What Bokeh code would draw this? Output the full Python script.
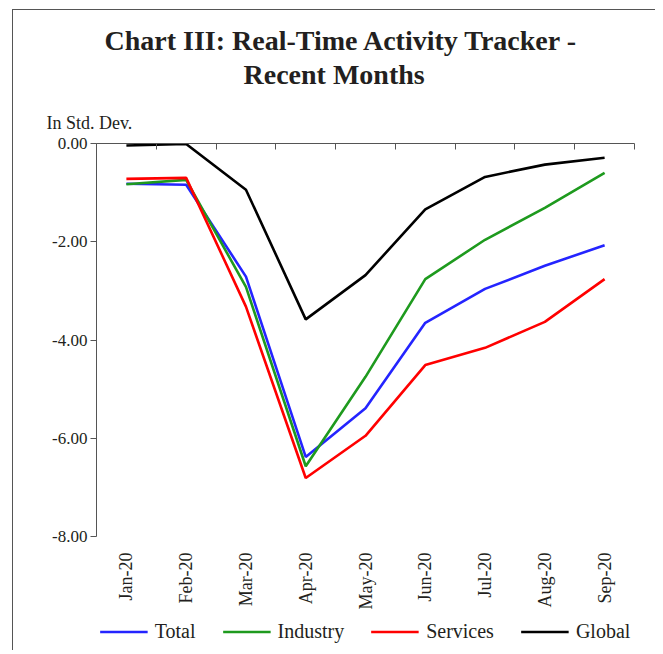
import math
from bokeh.plotting import figure
from bokeh.layouts import column
from bokeh.models import (ColumnDataSource, LinearAxis, FixedTicker, NumeralTickFormatter,
                          Range1d, Legend, LegendItem, Title)
from bokeh.embed import file_html
from bokeh.resources import INLINE

months = ["Jan-20", "Feb-20", "Mar-20", "Apr-20", "May-20", "Jun-20", "Jul-20", "Aug-20", "Sep-20"]
total = [-0.82, -0.84, -2.71, -6.38, -5.39, -3.65, -2.96, -2.49, -2.07]
industry = [-0.83, -0.74, -2.92, -6.57, -4.75, -2.76, -1.96, -1.31, -0.60]
services = [-0.72, -0.70, -3.32, -6.81, -5.95, -4.51, -4.16, -3.63, -2.76]
global_ = [-0.04, -0.01, -0.94, -3.58, -2.68, -1.34, -0.68, -0.43, -0.29]
y_ticks = [0, -2, -4, -6, -8]

FONT = "Liberation Serif"
TXT = "#231f20"
AX = "#555555"
xs = [i + 0.5 for i in range(len(months))]
src = ColumnDataSource(dict(x=xs, total=total, industry=industry, services=services, glob=global_))

p = figure(width=642, height=602, output_backend="svg", toolbar_location=None,
           x_range=Range1d(0, len(months)), y_range=Range1d(-8, 0),
           x_axis_location=None, y_axis_location=None,
           min_border_left=83, min_border_right=21, min_border_top=133, min_border_bottom=75)
p.outline_line_color = None
p.xgrid.visible = False
p.ygrid.visible = False
p.title = None

# left axis
yax = LinearAxis(ticker=FixedTicker(ticks=y_ticks), formatter=NumeralTickFormatter(format="0.00"),
                 axis_line_color=AX, major_tick_line_color=AX,
                 major_tick_in=0, major_tick_out=6, minor_tick_line_color=None,
                 major_label_text_font=FONT, major_label_text_font_size="17px",
                 major_label_text_color=TXT, major_label_standoff=3)
p.add_layout(yax, "left")

# top axis (x axis at zero), ticks between categories
tax = LinearAxis(ticker=FixedTicker(ticks=list(range(len(months) + 1))),
                 axis_line_color=AX, major_tick_line_color=AX,
                 major_tick_in=6, major_tick_out=0, minor_tick_line_color=None,
                 major_label_text_color=None, major_label_text_font_size="1px",
                 major_label_standoff=0)
p.add_layout(tax, "above")

p.add_layout(Title(text="In Std. Dev.", align="left", offset=-50, standoff=22,
                   text_font=FONT, text_font_size="18px", text_font_style="normal",
                   text_color=TXT), "above")
p.add_layout(Title(text="Recent Months", align="left", offset=147, standoff=20,
                   text_font=FONT, text_font_size="28px", text_font_style="bold",
                   text_color=TXT), "above")
p.add_layout(Title(text="Chart III: Real-Time Activity Tracker -", align="left", offset=8,
                   standoff=-18, text_font=FONT, text_font_size="28px", text_font_style="bold",
                   text_color=TXT), "above")

# bottom labels
bax = LinearAxis(ticker=FixedTicker(ticks=xs),
                 major_label_overrides={x: m for x, m in zip(xs, months)},
                 axis_line_color=None, major_tick_line_color=None, minor_tick_line_color=None,
                 major_label_orientation=math.pi / 2,
                 major_label_text_font=FONT, major_label_text_font_size="18px",
                 major_label_text_color=TXT, major_label_standoff=10)
p.add_layout(bax, "below")

series = [("total", "Total", "#2424ff"), ("industry", "Industry", "#1e9a1e"),
          ("services", "Services", "#ff0000"), ("glob", "Global", "#000000")]
for col, name, color in series:
    p.line("x", col, source=src, line_color=color, line_width=2.6)

# legend in its own strip below the chart (same series, drawn out of view)
lf = figure(width=642, height=38, output_backend="svg", toolbar_location=None,
            x_range=Range1d(0, len(months)), y_range=Range1d(10, 11),
            x_axis_location=None, y_axis_location=None,
            min_border_left=0, min_border_right=0, min_border_top=0, min_border_bottom=0)
lf.outline_line_color = None
lf.xgrid.visible = False
lf.ygrid.visible = False
items = []
for col, name, color in series:
    r = lf.line("x", col, source=src, line_color=color, line_width=2.6)
    items.append(LegendItem(label=name, renderers=[r]))
legend = Legend(items=items, orientation="horizontal", location="center",
                label_text_font=FONT, label_text_font_size="20px", label_text_color=TXT,
                glyph_width=48, glyph_height=14, label_standoff=7, spacing=27,
                border_line_color=None, background_fill_alpha=0, padding=0, margin=0)
lf.add_layout(legend, "center")

layout = column(p, lf, margin=(9, 0, 0, 12), spacing=0,
                styles={"border-left": "1px solid #555555", "border-top": "1px solid #555555"})

open("out.html", "w").write(file_html(layout, INLINE))
